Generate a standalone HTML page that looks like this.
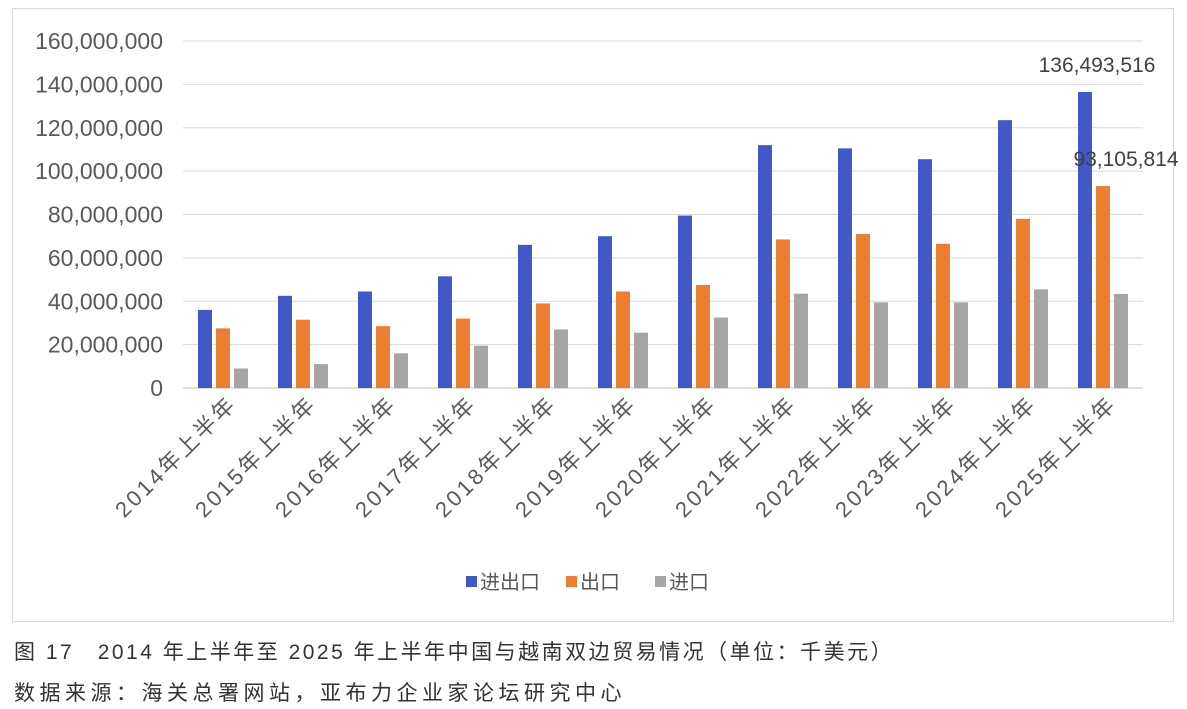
<!DOCTYPE html>
<html><head><meta charset="utf-8">
<style>
body{margin:0;background:#fff;width:1187px;height:709px;overflow:hidden;font-family:"Liberation Sans","Noto Sans CJK SC",sans-serif;}
.cap{position:absolute;left:14px;font-size:21px;color:#333;white-space:nowrap;}
</style></head>
<body>
<div style="position:absolute;left:12px;top:8px;width:1160px;height:612px;border:1px solid #d9d9d9;"></div>
<svg id="chart" width="1187" height="709" style="position:absolute;left:0;top:0"></svg>
<div class="cap" style="top:636px;letter-spacing:2.5px;">图 17　2014 年上半年至 2025 年上半年中国与越南双边贸易情况（单位：千美元）</div>
<div class="cap" style="top:677px;letter-spacing:4.5px;">数据来源：海关总署网站，亚布力企业家论坛研究中心</div>
<script>
const categories=["2014年上半年","2015年上半年","2016年上半年","2017年上半年","2018年上半年","2019年上半年","2020年上半年","2021年上半年","2022年上半年","2023年上半年","2024年上半年","2025年上半年"];
const totalTrade=[36000000,42500000,44500000,51500000,66000000,70000000,79500000,112000000,110500000,105500000,123500000,136493516];
const exportsArr=[27500000,31500000,28500000,32000000,39000000,44500000,47500000,68500000,71000000,66500000,78000000,93105814];
const importsArr=[9000000,11000000,16000000,19500000,27000000,25500000,32500000,43500000,39500000,39500000,45500000,43387702];
const yTicks=[0,20000000,40000000,60000000,80000000,100000000,120000000,140000000,160000000];
const NS="http://www.w3.org/2000/svg";
const svg=document.getElementById('chart');
const x0=183,x1=1143,yBase=388,yTop=41,yMax=160000000;
const bw=(x1-x0)/categories.length;
function y(v){return yBase-(v/yMax)*(yBase-yTop);}
function mk(t,a){const e=document.createElementNS(NS,t);for(const k in a)e.setAttribute(k,a[k]);svg.appendChild(e);return e;}
yTicks.forEach(v=>{
  const g=mk('line',{x1:x0,x2:x1,y1:y(v),y2:y(v),stroke:v===0?'#bfbfbf':'#d9d9d9','stroke-width':1});
  
  
  const t=mk('text',{x:163,y:y(v)+8,'text-anchor':'end','font-size':23,fill:'#595959'});
  t.textContent=v.toLocaleString('en-US');
  
  
});
const series=[[totalTrade,'#4258c9','bar-total'],[exportsArr,'#ed7d31','bar-export'],[importsArr,'#a5a5a5','bar-import']];
categories.forEach((c,i)=>{
  const cx=x0+bw*(i+0.5);
  series.forEach((s,j)=>{
    const v=s[0][i];
    const r=mk('rect',{x:cx-25+j*18,y:y(v),width:14,height:yBase-y(v),fill:s[1]});
    
    
  });
  const t=mk('text',{x:cx+15,y:405,'text-anchor':'end','font-size':22,'letter-spacing':3,fill:'#595959',transform:`rotate(-45 ${cx+15} 405)`});
  t.textContent=c;
  
  
});
const last=categories.length-1,lcx=x0+bw*(last+0.5);
const l1=mk('text',{x:lcx-6,y:y(totalTrade[last])-20,'text-anchor':'middle','font-size':21,fill:'#404040'});
l1.textContent=totalTrade[last].toLocaleString('en-US');


const l2=mk('text',{x:lcx+23,y:y(exportsArr[last])-20,'text-anchor':'middle','font-size':21,fill:'#404040'});
l2.textContent=exportsArr[last].toLocaleString('en-US');


const leg=[['进出口','#4258c9',466],['出口','#ed7d31',566],['进口','#a5a5a5',655]];
leg.forEach(l=>{
  const r=mk('rect',{x:l[2],y:576,width:11,height:11,fill:l[1]});
  
  
  const t=mk('text',{x:l[2]+14,y:589,'font-size':20,fill:'#595959'});
  t.textContent=l[0];
  
  
});
</script>
</body></html>
